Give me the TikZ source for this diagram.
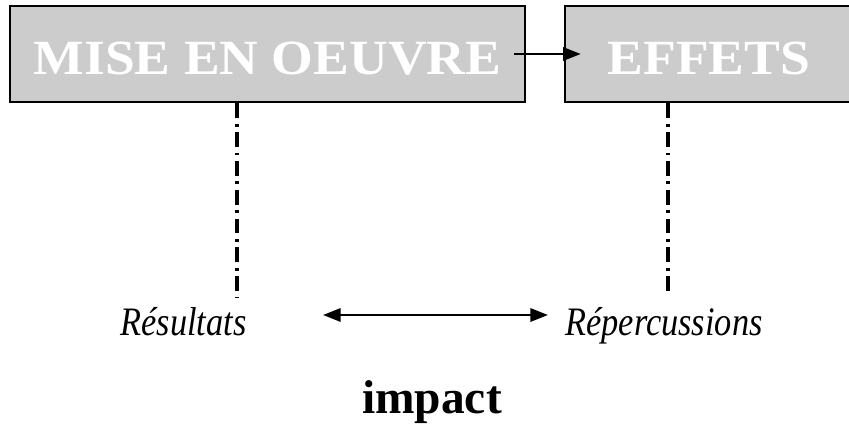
\documentclass[tikz,border=0pt]{standalone}
\usepackage{fontspec}
\setmainfont{Liberation Serif}
\newfontfamily\boxfont[FakeStretch=1.09]{Liberation Serif}
\newfontfamily\labfont[FakeStretch=0.85]{Liberation Serif}
\usetikzlibrary{arrows.meta}
\definecolor{boxgray}{RGB}{204,204,204}
\tikzset{
	stage/.style={draw=black, line width=1.5pt, fill=boxgray, text=white, minimum height=1.92cm, text height=0.82cm, text depth=0pt, inner sep=0pt, font=\boxfont\bfseries\fontsize{28}{30}\selectfont},
	link/.style={line width=1.4pt, -{Triangle[length=10pt,width=7.5pt]}},
	trace/.style={line width=2pt, dash pattern=on 8.5pt off 3.1pt on 1.7pt off 3.1pt},
	outcome/.style={font=\labfont\itshape\fontsize{23}{25}\selectfont, anchor=base, inner sep=0pt}
}

\begin{document}
\begin{tikzpicture}[x=0.02cm,y=-0.02cm]
	%%%%% START %%%%%
	\useasboundingbox (0,0) rectangle (849,429);
	\clip (0,0) rectangle (849,429);
	
	\node[stage, minimum width=10.3cm] (mise) at (267.5,54) {MISE EN OEUVRE};
	\node[stage, minimum width=5.76cm] (effets) at (709,54) {EFFETS};
	\draw[link] ([xshift=-0.24cm]mise.east) -- ([xshift=0.34cm]effets.west);
	
	\node[outcome] (resultats) at (183.5,335) {Résultats};
	\node[outcome] (reperc) at (664,335) {Répercussions};
	
	\coordinate (trL) at (237,298);
	\coordinate (trR) at (668,292);
	\draw[trace] (mise.south -| trL) -- (trL);
	\draw[trace] (effets.south -| trR) -- (trR);
	
	\coordinate (impL) at (323,315);
	\coordinate (impR) at (548,315);
	\draw[line width=1.4pt, {Triangle[length=10pt,width=7.5pt]}-{Triangle[length=10pt,width=7.5pt]}] (impL) -- (impR);
	
	\node[font=\bfseries\fontsize{27}{29}\selectfont, anchor=base, inner sep=0pt] (impact) at (432,413) {impact};
	%%%%% END %%%%%
\end{tikzpicture}
\end{document}
